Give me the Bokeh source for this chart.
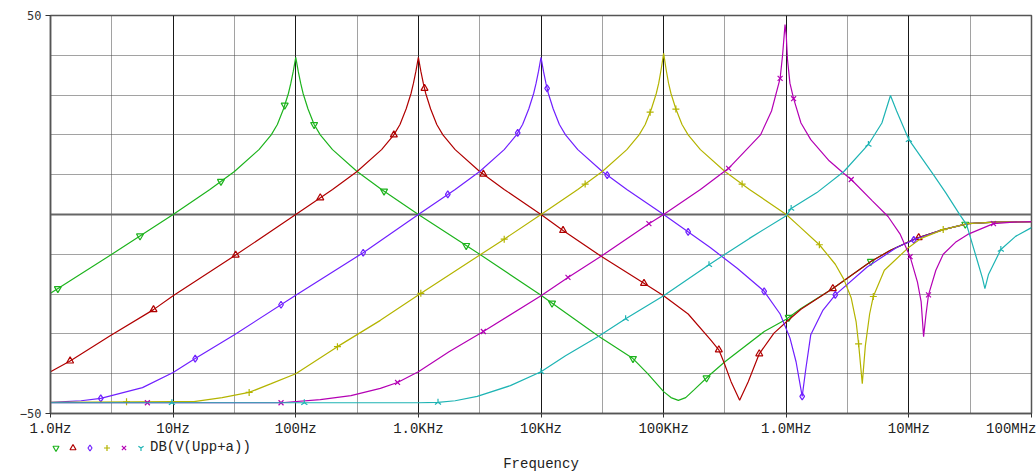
import numpy as np
from bokeh.plotting import figure
from bokeh.layouts import column
from bokeh.models import FixedTicker, Grid, Span, Legend, LegendItem, Label
from bokeh.embed import file_html
from bokeh.resources import INLINE

# ---------------- data (x = log10(frequency / Hz), y = dB) ----------------
green_logf = [0.0, 0.5, 1.0, 1.3, 1.5, 1.7, 1.8, 1.85, 1.9, 1.94, 1.96, 1.98, 2.0, 2.02, 2.04, 2.06, 2.1, 2.15,
              2.2, 2.3, 2.5, 2.7, 3.0, 3.5, 4.0, 4.47, 4.75, 4.87, 5.0, 5.06, 5.12, 5.18, 5.25, 5.38, 5.5, 5.82,
              6.0, 6.12, 6.38, 6.69, 6.85, 7.06, 7.28, 7.48, 7.7, 8.0]
green_db = [-19.8, -10.0, 0.0, 6.3, 10.8, 16.3, 20.0, 22.6, 26.5, 30.4, 33.0, 36.0, 39.5, 36.0, 33.0, 30.4, 26.5, 22.6,
            20.0, 16.3, 10.8, 6.3, 0.0, -10.0, -20.3, -30.6, -36.2, -40.0, -44.5, -46.0, -46.7, -46.0, -44.0, -40.2, -37.0, -29.4,
            -26.3, -23.6, -18.6, -11.8, -9.0, -6.0, -3.8, -2.3, -1.9, -1.8]
green_marks = [0.06, 0.73, 1.39, 1.91, 2.15, 2.72, 3.39, 4.09, 4.75, 5.35, 6.02, 6.69, 7.46]

red_logf = [0.0, 0.16, 0.48, 0.84, 1.0, 1.51, 2.0, 2.3, 2.5, 2.7, 2.8, 2.85, 2.9, 2.94, 2.96, 2.98, 3.0, 3.02, 3.04,
            3.06, 3.1, 3.15, 3.2, 3.3, 3.5, 3.7, 4.0, 4.18, 4.49, 4.84, 5.0, 5.2, 5.38, 5.45, 5.49, 5.55, 5.62, 5.69,
            5.78, 5.9, 6.0, 6.12, 6.38, 6.69, 6.85, 7.06, 7.28, 7.48, 7.7, 8.0]
red_db = [-39.5, -36.8, -30.6, -23.9, -20.4, -10.2, 0.0, 6.3, 10.8, 16.3, 20.0, 22.6, 26.5, 30.4, 33.0, 36.0, 39.5, 36.0, 33.0,
          30.4, 26.5, 22.6, 20.0, 16.3, 10.8, 6.3, 0.0, -4.0, -10.5, -17.3, -20.4, -25.0, -31.4, -34.0, -37.0, -42.0, -46.7, -42.0,
          -35.0, -29.8, -27.0, -23.8, -18.6, -11.8, -9.0, -6.0, -3.8, -2.3, -1.9, -1.8]
red_marks = [0.16, 0.84, 1.51, 2.2, 2.8, 3.05, 3.53, 4.18, 4.84, 5.45, 5.78, 6.38, 7.08]

blue_logf = [0.0, 0.25, 0.41, 0.75, 1.0, 1.18, 1.5, 2.0, 2.55, 3.0, 3.3, 3.5, 3.7, 3.8, 3.85, 3.9, 3.94, 3.96, 3.98,
             4.0, 4.02, 4.04, 4.06, 4.1, 4.15, 4.2, 4.3, 4.5, 4.7, 5.0, 5.38, 5.6, 5.82, 5.95, 6.03, 6.08, 6.13, 6.16,
             6.2, 6.3, 6.4, 6.66, 6.9, 7.06, 7.28, 7.48, 7.7, 8.0]
blue_db = [-47.2, -46.8, -46.2, -43.5, -39.7, -36.2, -30.2, -20.3, -9.6, 0.0, 6.3, 10.8, 16.3, 20.0, 22.6, 26.5, 30.4, 33.0, 36.0,
           39.5, 36.0, 33.0, 30.4, 26.5, 22.6, 20.0, 16.3, 10.8, 6.3, 0.0, -8.3, -13.5, -19.3, -25.0, -31.0, -37.0, -45.7, -38.7,
           -30.2, -24.0, -20.2, -13.2, -8.3, -6.1, -3.8, -2.3, -1.9, -1.8]
blue_marks = [0.41, 1.18, 1.88, 2.55, 3.24, 3.81, 4.05, 4.54, 5.2, 5.82, 6.13, 6.4, 7.04]

yellow_logf = [0.0, 1.0, 1.17, 1.4, 1.62, 1.8, 2.0, 2.34, 2.69, 3.0, 3.7, 4.0, 4.3, 4.5, 4.7, 4.8, 4.85, 4.9, 4.94,
               4.96, 4.98, 5.0, 5.02, 5.04, 5.06, 5.1, 5.15, 5.2, 5.3, 5.5, 5.7, 6.0, 6.1, 6.27, 6.4, 6.47, 6.53, 6.57,
               6.59, 6.62, 6.645, 6.68, 6.71, 6.8, 6.99, 7.1, 7.28, 7.48, 7.7, 8.0]
yellow_db = [-47.2, -47.0, -47.0, -46.0, -44.7, -42.5, -40.0, -33.2, -26.6, -20.2, -6.2, 0.0, 6.3, 10.8, 16.3, 20.0, 22.6, 26.5, 30.4,
             33.0, 36.5, 40.5, 36.5, 33.0, 30.4, 26.5, 22.6, 20.0, 16.3, 10.8, 6.3, 0.0, -2.8, -7.6, -12.5, -16.3, -21.0, -27.0,
             -32.5, -42.5, -33.0, -25.0, -20.6, -14.0, -8.5, -6.0, -3.8, -2.3, -1.9, -1.8]
yellow_marks = [0.62, 1.62, 2.34, 3.02, 3.7, 4.36, 4.89, 5.1, 5.64, 6.27, 6.59, 6.71, 7.28]

magenta_logf = [0.0, 1.0, 1.88, 2.2, 2.45, 2.69, 2.83, 3.0, 3.25, 3.53, 4.0, 4.22, 4.49, 4.88, 5.0, 5.3, 5.53, 5.79,
                5.88, 5.95, 5.97, 5.99, 6.0, 6.01, 6.03, 6.06, 6.12, 6.2, 6.35, 6.47, 6.53, 6.7, 6.83, 6.93, 7.01,
                7.07, 7.1, 7.12, 7.14, 7.16, 7.22, 7.28, 7.38, 7.48, 7.69, 7.85, 8.0]
magenta_db = [-47.3, -47.3, -47.3, -46.5, -45.5, -43.7, -42.2, -39.5, -34.5, -29.4, -20.4, -15.8, -10.5, -2.3, 0.0, 6.3, 11.6, 20.0,
              26.0, 34.2, 40.0, 47.7, 45.0, 39.0, 33.0, 29.1, 23.0, 18.8, 13.5, 10.3, 8.8, 3.5, -0.5, -5.0, -10.6,
              -17.0, -21.9, -30.7, -25.0, -20.2, -14.0, -10.0, -7.0, -5.0, -2.3, -1.9, -1.8]
magenta_marks = [0.79, 1.88, 2.83, 3.53, 4.22, 4.88, 5.53, 5.95, 6.06, 6.53, 7.01, 7.16, 7.69]

cyan_logf = [0.0, 2.0, 3.0, 3.16, 3.3, 3.48, 3.75, 4.0, 4.2, 4.47, 4.69, 5.0, 5.37, 5.7, 6.0, 6.04, 6.25, 6.47, 6.67,
             6.78, 6.85, 6.9, 7.0, 7.2, 7.3, 7.42, 7.47, 7.56, 7.6, 7.62, 7.65, 7.75, 7.87, 8.0]
cyan_db = [-47.3, -47.3, -47.3, -47.2, -46.8, -45.7, -43.0, -39.5, -35.5, -30.6, -26.2, -20.4, -12.6, -6.0, -0.3, 1.5, 5.5, 10.8, 17.6,
           23.0, 29.9, 26.0, 18.8, 10.0, 5.5, -0.3, -2.5, -11.8, -16.0, -18.6, -15.0, -8.8, -5.5, -3.3]
cyan_marks = [0.99, 2.07, 3.16, 4.0, 4.69, 5.37, 6.04, 6.67, 7.0, 7.75]

x_ticks = [1, 10, 100, 1000, 10000, 100000, 1000000, 10000000, 100000000]
x_tick_labels = ["1.0Hz", "10Hz", "100Hz", "1.0KHz", "10KHz", "100KHz", "1.0MHz", "10MHz", "100MHz"]
y_ticks = [-50, 50]
legend_text = "DB(V(Upp+a))"
x_title = "Frequency"

series = [
    (green_logf, green_db, green_marks, "#1DB31D", "inverted_triangle"),
    (red_logf, red_db, red_marks, "#B00000", "triangle"),
    (blue_logf, blue_db, blue_marks, "#7020FF", "diamond"),
    (yellow_logf, yellow_db, yellow_marks, "#B4B400", "cross"),
    (magenta_logf, magenta_db, magenta_marks, "#B400B4", "x"),
    (cyan_logf, cyan_db, cyan_marks, "#1EB4B4", "y"),
]

W = 1036
LEFT, RIGHT = 50, 5
FRAME_W = W - LEFT - RIGHT
p = figure(width=W, height=440, x_axis_type="log", x_range=(1, 1e8), y_range=(-50, 50),
           output_backend="svg", toolbar_location=None,
           min_border_left=LEFT, min_border_right=RIGHT, min_border_top=15, min_border_bottom=27)
p.background_fill_color = "white"
p.border_fill_color = "white"
p.outline_line_color = "#555555"
p.outline_line_width = 1.5

# grids
p.xgrid.ticker = FixedTicker(ticks=x_ticks[1:-1], minor_ticks=[])
p.xgrid.grid_line_color = "#000000"
p.xgrid.grid_line_width = 1
p.xgrid.grid_line_alpha = 0.9
half_dec = [10 ** (k + 0.5) for k in range(8)]
p.add_layout(Grid(dimension=0, ticker=FixedTicker(ticks=half_dec, minor_ticks=[]),
                  grid_line_color="#444444", grid_line_dash="1 1", grid_line_width=1))
p.ygrid.ticker = FixedTicker(ticks=[-40, -30, -20, -10, 10, 20, 30, 40], minor_ticks=[])
p.ygrid.grid_line_color = "#444444"
p.ygrid.grid_line_dash = "1 1"
p.add_layout(Span(location=0, dimension="width", line_color="#666666", line_width=2, level="underlay"))

# axes
p.xaxis.ticker = FixedTicker(ticks=x_ticks, minor_ticks=[])
p.xaxis.major_label_overrides = {t: l for t, l in zip(x_ticks, x_tick_labels)}
p.xaxis.major_label_text_font = "Liberation Mono"
p.xaxis.major_label_text_font_size = "14px"
p.xaxis.major_label_text_color = "#222222"
p.xaxis.major_tick_out = 4
p.xaxis.major_tick_in = 0
p.xaxis.major_label_standoff = 3
p.yaxis.ticker = FixedTicker(ticks=y_ticks, minor_ticks=[])
p.yaxis.major_label_text_font = "DejaVu Sans Mono"
p.yaxis.major_label_text_font_size = "12px"
p.yaxis.major_label_text_color = "#333333"
p.yaxis.major_tick_out = 5
p.yaxis.major_tick_in = 0
p.yaxis.major_label_standoff = 4
for ax in (p.xaxis, p.yaxis):
    ax.axis_line_color = "#555555"
    ax.axis_line_width = 1.5
    ax.major_tick_line_color = "#333333"
    ax.minor_tick_line_color = None

# legend strip below the axis; its frame is aligned with the main frame (pixel-unit ranges)
p2 = figure(width=W, height=35, x_range=(0, FRAME_W), y_range=(0, 35), output_backend="svg",
            toolbar_location=None, x_axis_location=None, y_axis_location=None,
            min_border_left=LEFT, min_border_right=RIGHT, min_border_top=0, min_border_bottom=0)
p2.outline_line_color = None
p2.xgrid.visible = False
p2.ygrid.visible = False
p2.background_fill_color = "white"
p2.border_fill_color = "white"

items = []
for i, (lf, db, mk, col, mtype) in enumerate(series):
    lf = np.array(lf)
    p.line(10 ** lf, db, line_color=col, line_width=1.2)
    mdb = np.interp(mk, lf, db)
    ang = np.pi if mtype == "y" else 0.0
    p.scatter(10 ** np.array(mk), mdb, marker=mtype, size=7, fill_color=None,
              line_color=col, line_width=1.2, angle=ang)
    # legend-only renderer (no visible point)
    r2 = p2.scatter(x=[np.nan], y=[np.nan], marker=mtype, size=7, fill_color=None,
                    line_color=col, line_width=1.2, angle=ang)
    items.append(LegendItem(label=(legend_text if i == len(series) - 1 else ""), renderers=[r2]))

legend = Legend(items=items, orientation="horizontal", location=(-2, 20),
                glyph_width=15, glyph_height=15, label_standoff=2, spacing=0,
                label_width=0, label_height=0,
                padding=0, margin=0, border_line_color=None, background_fill_alpha=0,
                label_text_font="Liberation Mono", label_text_font_size="14px",
                label_text_color="#222222")
p2.add_layout(legend, "center")
p2.add_layout(Label(x=FRAME_W / 2, y=12, text=x_title, text_align="center", text_baseline="middle",
                    text_font="Liberation Mono", text_font_size="14px", text_color="#222222"))

open("out.html", "w").write(file_html(column(p, p2, spacing=0), INLINE))
